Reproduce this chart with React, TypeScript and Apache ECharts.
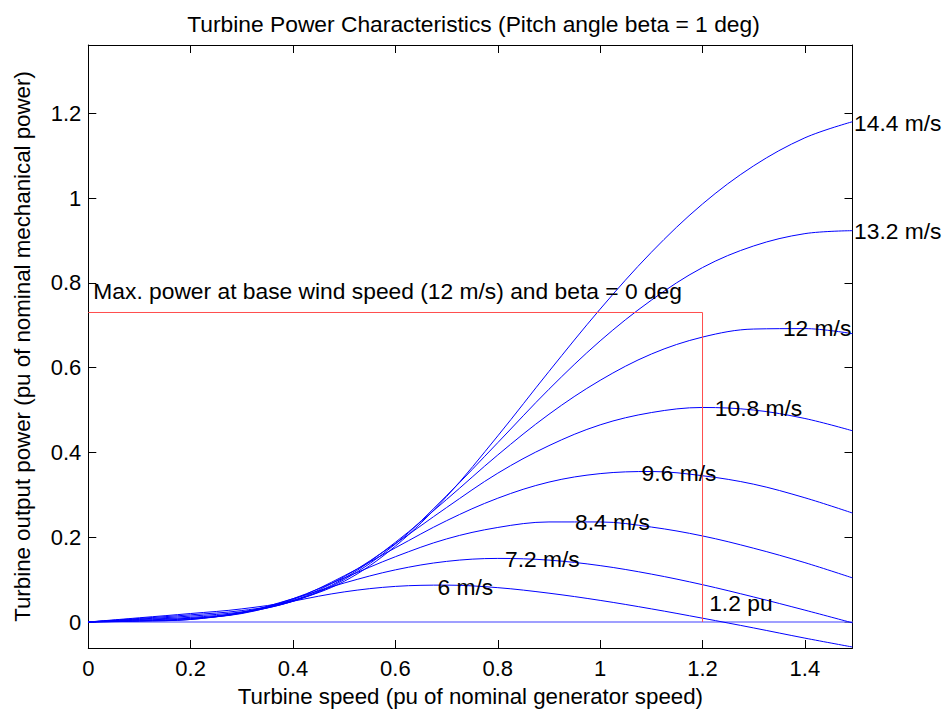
import React, { useEffect, useRef } from "react";
import * as echarts from "echarts";

// Turbine speed (pu of nominal generator speed)
const speed = [0, 0.1, 0.2, 0.3, 0.4, 0.5, 0.6, 0.7, 0.8, 0.9, 1.0, 1.1, 1.2, 1.3, 1.4, 1.493];

// Turbine output power (pu) for each wind speed
const p6 = [0, 0.002, 0.006, 0.023, 0.049, 0.071, 0.084, 0.087, 0.081, 0.068, 0.051, 0.031, 0.009, -0.014, -0.038, -0.059];
const p72 = [0, 0.0025, 0.006, 0.022, 0.055, 0.092, 0.123, 0.143, 0.15, 0.146, 0.133, 0.113, 0.088, 0.059, 0.028, -0.002];
const p84 = [0, 0.003, 0.008, 0.021, 0.055, 0.104, 0.154, 0.196, 0.223, 0.236, 0.236, 0.224, 0.203, 0.174, 0.14, 0.104];
const p96 = [0, 0.0045, 0.009, 0.02, 0.053, 0.109, 0.175, 0.239, 0.292, 0.33, 0.35, 0.355, 0.345, 0.325, 0.293, 0.257];
const p108 = [0, 0.006, 0.011, 0.022, 0.05, 0.107, 0.185, 0.27, 0.351, 0.416, 0.465, 0.494, 0.506, 0.5, 0.48, 0.451];
const p12 = [0, 0.007, 0.014, 0.024, 0.049, 0.103, 0.188, 0.289, 0.394, 0.49, 0.57, 0.632, 0.672, 0.691, 0.692, 0.68];
const p132 = [0, 0.0085, 0.017, 0.027, 0.049, 0.1, 0.184, 0.298, 0.423, 0.549, 0.663, 0.759, 0.836, 0.887, 0.916, 0.923];
const p144 = [0, 0.01, 0.02, 0.031, 0.051, 0.096, 0.179, 0.296, 0.439, 0.591, 0.738, 0.872, 0.986, 1.076, 1.142, 1.18];

const curves = [p6, p72, p84, p96, p108, p12, p132, p144];
const curveNames = ["6 m/s", "7.2 m/s", "8.4 m/s", "9.6 m/s", "10.8 m/s", "12 m/s", "13.2 m/s", "14.4 m/s"];

// Label anchor points (left edge, vertical middle) in data units
const labelX = [0.682, 0.814, 0.951, 1.081, 1.224, 1.357, 1.496, 1.496];
const labelY = [0.083, 0.149, 0.235, 0.351, 0.504, 0.693, 0.922, 1.178];

// Max power marker (12 m/s base wind speed, beta = 0)
const maxPowerX = [0, 1.2, 1.2];
const maxPowerY = [0.73, 0.73, 0];
const maxPowerText = "Max. power at base wind speed (12 m/s) and beta = 0 deg";
const maxPowerTextPos = [0.0098, 0.78];
const puText = "1.2 pu";
const puTextPos = [1.213, 0.045];

// Zero power line
const zeroX = [0, 1.493];
const zeroY = [0, 0];

const xTicks = [0, 0.2, 0.4, 0.6, 0.8, 1, 1.2, 1.4];
const yTicks = [0, 0.2, 0.4, 0.6, 0.8, 1, 1.2];
const xMin = 0;
const xMax = 1.493;
const yMin = -0.0613;
const yMax = 1.3609;

const FONT = "'Liberation Sans', Arial, Helvetica, sans-serif";

export default function App() {
  const ref = useRef<HTMLDivElement>(null);

  useEffect(() => {
    if (!ref.current) return;
    const chart = echarts.init(ref.current, null, { renderer: "svg" });

    const axisLine = { show: true, onZero: false, lineStyle: { color: "#000", width: 1 } };
    const tickStyle = { color: "#000", width: 1 };

    const labelData = curveNames.map((n, i) => ({ name: n, value: [labelX[i], labelY[i]] }));
    labelData.push({ name: maxPowerText, value: maxPowerTextPos });
    labelData.push({ name: puText, value: puTextPos });

    const option: any = {
      animation: false,
      backgroundColor: "#ffffff",
      textStyle: { fontFamily: FONT },
      title: {
        text: "Turbine Power Characteristics (Pitch angle beta = 1 deg)",
        left: "center",
        top: 7,
        textStyle: { fontFamily: FONT, fontSize: 22.8, fontWeight: "normal", color: "#000" },
      },
      grid: { left: 88.3, top: 45, right: 94.5, bottom: 65, containLabel: false },
      xAxis: [
        {
          type: "value",
          position: "bottom",
          min: xMin,
          max: xMax,
          axisLine,
          axisTick: { show: true, inside: true, length: 8, customValues: xTicks, lineStyle: tickStyle },
          axisLabel: { show: true, customValues: xTicks, margin: 9, fontSize: 22, color: "#000", fontFamily: FONT },
          splitLine: { show: false },
          name: "Turbine speed (pu of nominal generator speed)",
          nameLocation: "middle",
          nameGap: 37,
          nameTextStyle: { fontSize: 22.3, color: "#000", fontFamily: FONT },
        },
        {
          type: "value",
          position: "top",
          min: xMin,
          max: xMax,
          axisLine,
          axisTick: { show: true, inside: true, length: 8, customValues: xTicks, lineStyle: tickStyle },
          axisLabel: { show: false },
          splitLine: { show: false },
        },
      ],
      yAxis: [
        {
          type: "value",
          position: "left",
          min: yMin,
          max: yMax,
          axisLine,
          axisTick: { show: true, inside: true, length: 8, customValues: yTicks, lineStyle: tickStyle },
          axisLabel: { show: true, customValues: yTicks, margin: 7, fontSize: 22, color: "#000", fontFamily: FONT },
          splitLine: { show: false },
          name: "Turbine output power (pu of nominal mechanical power)",
          nameLocation: "middle",
          nameRotate: 90,
          nameGap: 55,
          nameTextStyle: { fontSize: 22.3, color: "#000", fontFamily: FONT },
        },
        {
          type: "value",
          position: "right",
          min: yMin,
          max: yMax,
          axisLine,
          axisTick: { show: true, inside: true, length: 8, customValues: yTicks, lineStyle: tickStyle },
          axisLabel: { show: false },
          splitLine: { show: false },
        },
      ],
      series: [
        {
          type: "line",
          name: "zero",
          data: zeroX.map((x, i) => [x, zeroY[i]]),
          symbol: "none",
          silent: true,
          lineStyle: { color: "#7f7fff", width: 1.5 },
          z: 2,
        },
        ...curves.map((vals, i) => ({
          type: "line",
          name: curveNames[i],
          data: speed.map((x, j) => [x, vals[j]]),
          symbol: "none",
          smooth: 0.35,
          silent: true,
          lineStyle: { color: "#0000ff", width: 1 },
          z: 3,
        })),
        {
          type: "line",
          name: "max power",
          data: maxPowerX.map((x, i) => [x, maxPowerY[i]]),
          symbol: "none",
          silent: true,
          lineStyle: { color: "#ff4d4d", width: 1 },
          z: 4,
        },
        {
          type: "scatter",
          name: "labels",
          data: labelData,
          symbolSize: 0,
          clip: false,
          silent: true,
          itemStyle: { opacity: 1, color: "#000" },
          label: {
            show: true,
            position: "right",
            distance: 0,
            formatter: "{b}",
            fontSize: 22.8,
            color: "#000",
            opacity: 1,
            fontFamily: FONT,
            verticalAlign: "middle",
          },
          z: 5,
        },
      ],
    };

    chart.setOption(option);
    return () => chart.dispose();
  }, []);

  return (
    <div
      ref={ref}
      style={{ position: "fixed", left: 0, top: 0, width: 947, height: 713, background: "#fff" }}
    />
  );
}
